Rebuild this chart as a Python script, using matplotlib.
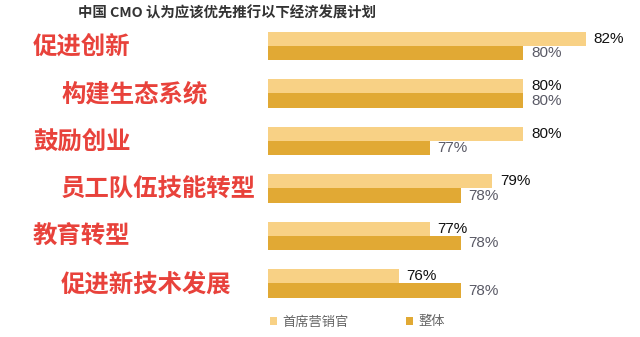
import matplotlib
matplotlib.use('Agg')
import matplotlib.pyplot as plt

plt.rcParams['font.family'] = ['Noto Sans CJK SC', 'DejaVu Sans']

# data
categories = ['促进创新', '构建生态系统', '鼓励创业', '员工队伍技能转型', '教育转型', '促进新技术发展']
cmo = [82, 80, 80, 79, 77, 76]
overall = [80, 80, 77, 78, 78, 78]
series_names = ['首席营销官', '整体']
title = '中国 CMO 认为应该优先推行以下经济发展计划'

c_cmo = '#F8D185'
c_all = '#E1A934'
c_red = '#E8423B'

fig = plt.figure(figsize=(6.4, 3.37), dpi=100)
ax = fig.add_axes([268/640, (337-310)/337, 1-268/640, 290/337])

x0 = 71.8
y = list(range(len(categories)))
h = 0.30
b1 = ax.barh([i - h/2 for i in y], [v - x0 for v in cmo], height=h, left=x0,
             color=c_cmo, label=series_names[0])
b2 = ax.barh([i + h/2 for i in y], [v - x0 for v in overall], height=h, left=x0,
             color=c_all, label=series_names[1])

for i in y:
    ax.annotate(f'{cmo[i]}%', (cmo[i], i - h/2), xytext=(5.5, 0), textcoords='offset points',
                va='center', ha='left', fontsize=11, color='#111111', family='Liberation Sans')
    ax.annotate(f'{overall[i]}%', (overall[i], i + h/2), xytext=(5.5, 0), textcoords='offset points',
                va='center', ha='left', fontsize=11, color='#5a5a66', family='Liberation Sans')

ax.set_xlim(x0, 83.75)
ax.set_ylim(5.558, -0.547)
ax.axis('off')

# category labels, staggered like the reference
for i, cat in enumerate(categories):
    xpx = 33 if i % 2 == 0 else 61
    fig.text(xpx/640, 1 - (47 + 47.5*i)/337, cat, fontsize=17.6, fontweight='bold',
             color=c_red, ha='left', va='center')

fig.text(78/640, 1 - 13/337, title, fontsize=10.4, fontweight='bold', color='#333333',
         ha='left', va='center')

ax.legend(handles=[b1, b2], loc='center left', bbox_to_anchor=(270/640, 1 - 322/337),
          bbox_transform=fig.transFigure, ncol=2, frameon=False, fontsize=9.5,
          labelcolor='#666666', handlelength=0.55, handleheight=0.55, handletextpad=0.35,
          columnspacing=4.4, borderpad=0, borderaxespad=0)

fig.savefig('out.png', dpi=100)
